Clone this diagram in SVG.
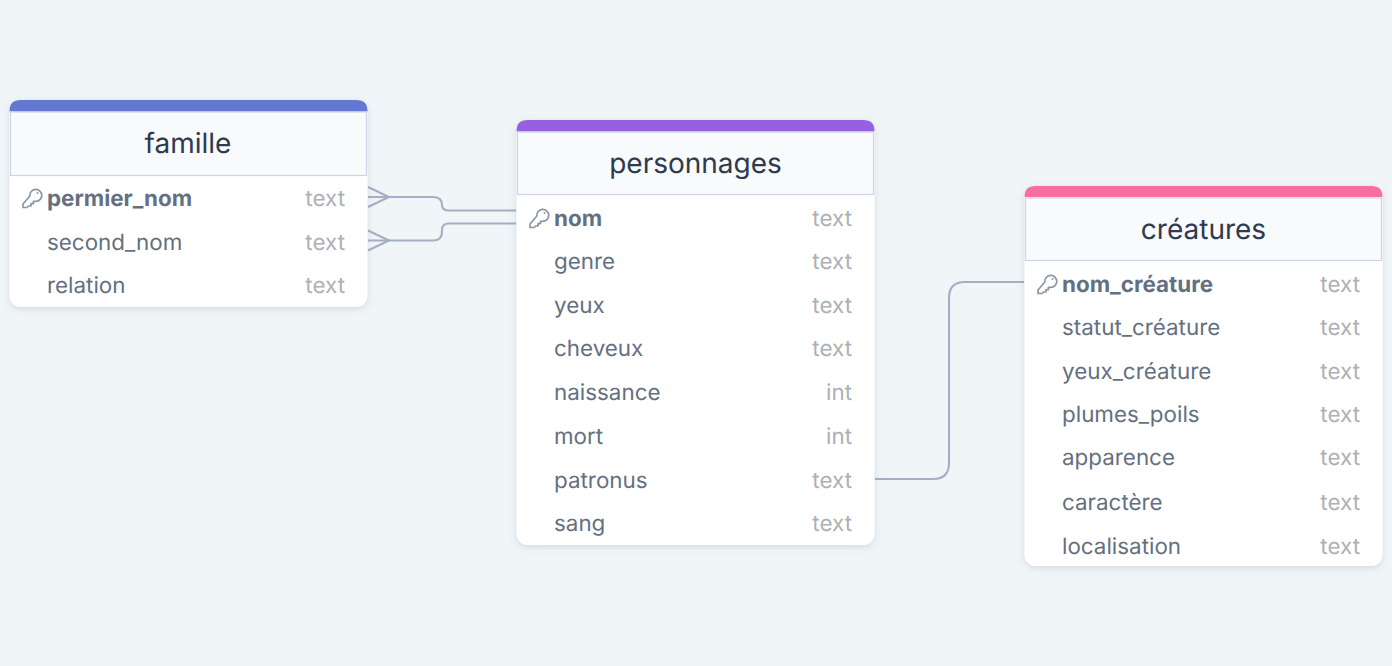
<svg xmlns="http://www.w3.org/2000/svg" width="1392" height="666" viewBox="0 0 1392 666">
<style>
text{font-family:Inter,"Liberation Sans",sans-serif;text-rendering:geometricPrecision}
.t{font-size:28px;fill:#2d3a4f;text-anchor:middle}
.f{font-size:22.400px;fill:#64707f}
.k{font-weight:700}
.y{font-size:22.400px;fill:#adb0b5;text-anchor:end}
.card{fill:#fff}
.head{fill:#f8fafc;stroke:#cbd5e5;stroke-width:1.200}
.c{fill:none;stroke:#a3b0c4;stroke-width:2.100}
.key{fill:none;stroke:#8b96a5;stroke-width:1.700;stroke-linejoin:round}
</style>
<defs>
<filter id="s" x="-10%" y="-10%" width="120%" height="125%"><feDropShadow dx="0" dy="2" stdDeviation="3.500" flood-color="#64748b" flood-opacity="0.220"/></filter>
<g id="keyi">
<path d="M-0.200 -3A6 6 0 1 1 5.600 2.400L3.400 2.400V4.600H1V7H-1.500L-3 8.500H-7V5Z" class="key"/>
<circle cx="7.500" cy="-6" r="1" fill="#8b96a5"/>
</g>
</defs>
<rect width="1392" height="666" fill="#f0f5f8"/>
<g id="connectors">
<path class="c" d="M368 197H433Q442 197 442 205V205Q442 210.500 449 210.500H516"/>
<path class="c" d="M368 240.500H433Q442 240.500 442 232V230Q442 223.500 449 223.500H516"/>
<path class="c" d="M368 187L389 197L368 207"/>
<path class="c" d="M368 230.500L389 240.500L368 250.500"/>
<path class="c" d="M875 479H933Q949 479 949 463V298Q949 282 965 282H1024"/>
</g>
<g id="famille">
<rect class="card" x="9.500" y="100" width="358" height="207" rx="11" filter="url(#s)"/>
<path d="M9.500 111.500V111Q9.500 100 20.500 100H356.500Q367.500 100 367.500 111V111.500Z" fill="#6478d0"/>
<rect class="head" x="10.500" y="112" width="356" height="63.500"/>
<text class="t" x="188" y="153">famille</text>
<use href="#keyi" x="30" y="199"/>
<text class="f k" x="47" y="206">permier_nom</text><text class="y" x="345" y="206">text</text>
<text class="f" x="47" y="250">second_nom</text><text class="y" x="345" y="250">text</text>
<text class="f" x="47" y="293">relation</text><text class="y" x="345" y="293">text</text>
</g>
<g id="personnages">
<rect class="card" x="516.500" y="120" width="358" height="425" rx="11" filter="url(#s)"/>
<path d="M516.500 131.500V131Q516.500 120 527.500 120H863.500Q874.500 120 874.500 131V131.500Z" fill="#985fe0"/>
<rect class="head" x="517.500" y="132" width="356" height="62.500"/>
<text class="t" x="695.500" y="173">personnages</text>
<use href="#keyi" x="537" y="219"/>
<text class="f k" x="554" y="226">nom</text><text class="y" x="852" y="226">text</text>
<text class="f" x="554" y="269">genre</text><text class="y" x="852" y="269">text</text>
<text class="f" x="554" y="313">yeux</text><text class="y" x="852" y="313">text</text>
<text class="f" x="554" y="356">cheveux</text><text class="y" x="852" y="356">text</text>
<text class="f" x="554" y="400">naissance</text><text class="y" x="852" y="400">int</text>
<text class="f" x="554" y="444">mort</text><text class="y" x="852" y="444">int</text>
<text class="f" x="554" y="488">patronus</text><text class="y" x="852" y="488">text</text>
<text class="f" x="554" y="531">sang</text><text class="y" x="852" y="531">text</text>
</g>
<g id="creatures">
<rect class="card" x="1024.500" y="186" width="358" height="380" rx="11" filter="url(#s)"/>
<path d="M1024.500 197V197Q1024.500 186 1035.500 186H1371.500Q1382.500 186 1382.500 197V197Z" fill="#f7709d"/>
<rect class="head" x="1025.500" y="198" width="356" height="62.500"/>
<text class="t" x="1203.500" y="239">créatures</text>
<use href="#keyi" x="1045" y="285"/>
<text class="f k" x="1062" y="292">nom_créature</text><text class="y" x="1360" y="292">text</text>
<text class="f" x="1062" y="335">statut_créature</text><text class="y" x="1360" y="335">text</text>
<text class="f" x="1062" y="379">yeux_créature</text><text class="y" x="1360" y="379">text</text>
<text class="f" x="1062" y="422">plumes_poils</text><text class="y" x="1360" y="422">text</text>
<text class="f" x="1062" y="465">apparence</text><text class="y" x="1360" y="465">text</text>
<text class="f" x="1062" y="510">caractère</text><text class="y" x="1360" y="510">text</text>
<text class="f" x="1062" y="554">localisation</text><text class="y" x="1360" y="554">text</text>
</g>
</svg>
